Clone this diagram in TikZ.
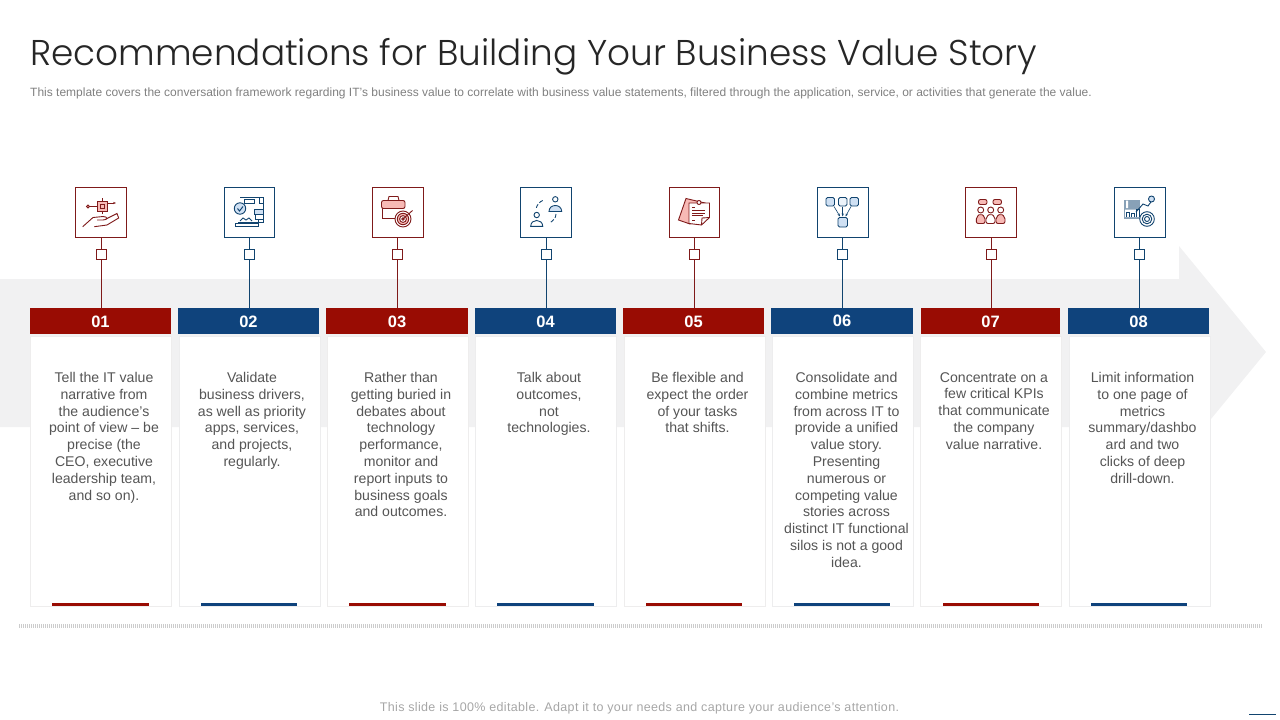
\documentclass[tikz,border=0pt]{standalone}
\usepackage{fontspec}
\setmainfont{Liberation Sans}
\newfontfamily\titlefont{Poppins Light}
\usetikzlibrary{arrows.meta}
\definecolor{redbar}{HTML}{990C03}
\definecolor{bluebar}{HTML}{0F437C}
\definecolor{redline}{HTML}{7F1A1A}
\definecolor{blueline}{HTML}{11446F}
\definecolor{redfill}{HTML}{F7B9B5}
\definecolor{bluefill}{HTML}{CFE0F3}
\definecolor{bandgray}{HTML}{F1F1F2}
\definecolor{bodygray}{HTML}{555555}
\tikzset{
    iconbox/.style={draw,fill=white,line width=1pt,minimum width=51pt,minimum height=50pt,inner sep=0pt,outer sep=0pt},
    stembox/.style={draw,fill=white,line width=1.1pt,minimum size=10pt,inner sep=0pt,outer sep=0pt},
    headbox/.style={inner sep=0pt,outer sep=0pt,minimum height=26pt,text height=12.5pt,text depth=0pt,text=white,font=\fontsize{16.5}{18}\selectfont\bfseries},
    cardbox/.style={draw,fill=white,line width=0.8pt,minimum height=270pt,minimum width=141pt,inner sep=0pt,outer sep=0pt,anchor=north west},
    cardtext/.style={anchor=north,inner sep=0pt,align=center,text=bodygray,font=\fontsize{14.1}{16.8}\selectfont},
    footbar/.style={line width=3pt},
    redicon/.style={draw=redline,line width=0.9pt},
    blueicon/.style={draw=blueline,line width=0.9pt}
}
\begin{document}
\begin{tikzpicture}[x=1pt,y=-1pt]
    \useasboundingbox (0,0) rectangle (1280,720);

    % title and note
    \node[anchor=base west,inner sep=0pt,text=black!85,font=\fontsize{35.85}{40}\titlefont] (title) at (30,65) {Recommendations for Building Your Business Value Story};
    \node[anchor=base west,inner sep=0pt,text=black!50,font=\fontsize{12}{14}\selectfont] (note) at (30,96) {This template covers the conversation framework regarding IT's business value to correlate with business value statements, filtered through the application, service, or activities that generate the value.};

    % big arrow
    \fill[bandgray] (0,279) -- (1179,279) -- (1179,246) -- (1266,352) -- (1179,458) -- (1179,427) -- (0,427) -- cycle;

    % headers
    \node[headbox,fill=redbar,minimum width=141pt] (head1) at (100.5,321.2) {01};
    \node[headbox,fill=bluebar,minimum width=141pt] (head2) at (248.5,321.2) {02};
    \node[headbox,fill=redbar,minimum width=142pt] (head3) at (397,321.2) {03};
    \node[headbox,fill=bluebar,minimum width=141pt] (head4) at (545.5,321.2) {04};
    \node[headbox,fill=redbar,minimum width=141pt] (head5) at (693.5,321.2) {05};
    \node[headbox,fill=bluebar,minimum width=142pt,text height=11pt] (head6) at (842,321.2) {06};
    \node[headbox,fill=redbar,minimum width=139pt] (head7) at (990.5,321.2) {07};
    \node[headbox,fill=bluebar,minimum width=141pt] (head8) at (1138.5,321.2) {08};

    % icon frames
    \node[iconbox,draw=redline] (icon1) at (101,212.5) {};
    \node[iconbox,draw=blueline,minimum width=50pt] (icon2) at (249.5,212.5) {};
    \node[iconbox,draw=redline] (icon3) at (398,212.5) {};
    \node[iconbox,draw=blueline] (icon4) at (546,212.5) {};
    \node[iconbox,draw=redline,minimum width=50pt] (icon5) at (694.5,212.5) {};
    \node[iconbox,draw=blueline] (icon6) at (843,212.5) {};
    \node[iconbox,draw=redline] (icon7) at (991,212.5) {};
    \node[iconbox,draw=blueline] (icon8) at (1140,212.5) {};

    % small squares on the stems
    \node[stembox,draw=redline] (stem1) at (101.5,254.5) {};
    \node[stembox,draw=blueline] (stem2) at (249.5,254.5) {};
    \node[stembox,draw=redline] (stem3) at (397.5,254.5) {};
    \node[stembox,draw=blueline] (stem4) at (546.5,254.5) {};
    \node[stembox,draw=redline] (stem5) at (694.5,254.5) {};
    \node[stembox,draw=blueline] (stem6) at (842.5,254.5) {};
    \node[stembox,draw=redline] (stem7) at (991.5,254.5) {};
    \node[stembox,draw=blueline] (stem8) at (1139.5,254.5) {};

    % stems
    \draw[redline,line width=1pt] (icon1.south -| stem1.north) -- (stem1.north) (stem1.south) -- (stem1.south |- head1.north);
    \draw[blueline,line width=1pt] (icon2.south -| stem2.north) -- (stem2.north) (stem2.south) -- (stem2.south |- head2.north);
    \draw[redline,line width=1pt] (icon3.south -| stem3.north) -- (stem3.north) (stem3.south) -- (stem3.south |- head3.north);
    \draw[blueline,line width=1pt] (icon4.south -| stem4.north) -- (stem4.north) (stem4.south) -- (stem4.south |- head4.north);
    \draw[redline,line width=1pt] (icon5.south -| stem5.north) -- (stem5.north) (stem5.south) -- (stem5.south |- head5.north);
    \draw[blueline,line width=1pt] (icon6.south -| stem6.north) -- (stem6.north) (stem6.south) -- (stem6.south |- head6.north);
    \draw[redline,line width=1pt] (icon7.south -| stem7.north) -- (stem7.north) (stem7.south) -- (stem7.south |- head7.north);
    \draw[blueline,line width=1pt] (icon8.south -| stem8.north) -- (stem8.north) (stem8.south) -- (stem8.south |- head8.north);

    % cards
    \node[cardbox,draw=red!5!black!7] (card1) at (30.5,336) {};
    \node[cardbox,draw=blue!5!black!7] (card2) at (179,336) {};
    \node[cardbox,draw=red!5!black!7] (card3) at (327.5,336) {};
    \node[cardbox,draw=blue!5!black!7] (card4) at (475.5,336) {};
    \node[cardbox,draw=red!5!black!7] (card5) at (624.5,336) {};
    \node[cardbox,draw=blue!5!black!7] (card6) at (772,336) {};
    \node[cardbox,draw=red!5!black!7] (card7) at (920.5,336) {};
    \node[cardbox,draw=blue!5!black!7] (card8) at (1069,336) {};

    % card texts
    \node[cardtext] (text1) at (104,372) {Tell the IT value\\narrative from\\the audience's\\point of view -- be\\precise (the\\CEO, executive\\leadership team,\\and so on).};
    \node[cardtext] (text2) at (252,372) {Validate\\business drivers,\\as well as priority\\apps, services,\\and projects,\\regularly.};
    \node[cardtext] (text3) at (401,372) {Rather than\\getting buried in\\debates about\\technology\\performance,\\monitor and\\report inputs to\\business goals\\and outcomes.};
    \node[cardtext] (text4) at (549,372) {Talk about\\outcomes,\\not\\technologies.};
    \node[cardtext] (text5) at (697.5,372) {Be flexible and\\expect the order\\of your tasks\\that shifts.};
    \node[cardtext] (text6) at (846.5,372) {Consolidate and\\combine metrics\\from across IT to\\provide a unified\\value story.\\Presenting\\numerous or\\competing value\\stories across\\distinct IT functional\\silos is not a good\\idea.};
    \node[cardtext] (text7) at (994,372) {Concentrate on a\\few critical KPIs\\that communicate\\the company\\value narrative.};
    \node[cardtext] (text8) at (1142.5,372) {Limit information\\to one page of\\metrics\\summary/dashbo\\ard and two\\clicks of deep\\drill-down.};

    % bars at the foot of the cards
    \draw[footbar,redbar] (52,604.5) -- (149,604.5);
    \draw[footbar,bluebar] (201,604.5) -- (297,604.5);
    \draw[footbar,redbar] (349,604.5) -- (446,604.5);
    \draw[footbar,bluebar] (497,604.5) -- (594,604.5);
    \draw[footbar,redbar] (646,604.5) -- (742,604.5);
    \draw[footbar,bluebar] (794,604.5) -- (890,604.5);
    \draw[footbar,redbar] (943,604.5) -- (1039,604.5);
    \draw[footbar,bluebar] (1091,604.5) -- (1187,604.5);

    % icon 1, hand and chip
    \draw[redicon] (89.5,206.5) -- (97.5,206.5);
    \draw[redicon,-{Stealth[length=3pt]}] (107,203) -- (116,203);
    \draw[redicon] (102,198) -- (102,201.5) (102,211) -- (102,214);
    \draw[redicon,fill=redfill] (88,206.5) circle (1.5);
    \draw[redicon,fill=redfill] (97.5,201.5) rectangle (107,211);
    \draw[redicon] (100.5,204.5) rectangle (104,208);
    \draw[redicon] (82.7,226.7) -- (93,217.5) -- (103,216.5) .. controls (108,216.5) and (108,220) .. (103,220) -- (97,220);
    \draw[redicon] (106,219) -- (117,213.5) -- (118.7,218) -- (107,225) -- (94.3,226.7);

    % icon 2, document with check and cylinder
    \draw[blueicon,fill=white] (240,197.5) -- (263,197.5) -- (263,222.5) -- (238,222.5) (263,197.5) -- (263,203) -- (259,203) -- (259,197.5);
    \draw[blueicon] (244,199.5) rectangle (254,203);
    \draw[blueicon] (235,223) rectangle (258,226.5);
    \draw[blueicon] (240,221) -- (243,218) -- (246,220) -- (249,218) -- (252,221);
    \draw[blueicon,fill=bluefill] (240,208.5) circle (5.7);
    \draw[blueicon,line width=1pt] (237.5,208.5) -- (239.5,211) -- (243,206.5);
    \draw[blueicon,fill=bluefill] (254,209.5) rectangle (263.5,214);
    \draw[blueicon,fill=white] (255,214) rectangle (263,219);
    \draw[blueicon] (258.5,219) -- (258.5,222);

    % icon 3, briefcase and target
    \draw[redicon] (388,200.5) -- (389,196.5) -- (398,196.5) -- (399,200.5);
    \draw[redicon] (382.5,207) -- (382.5,218) -- (397,218);
    \draw[redicon,fill=redfill,rounded corners=2pt] (381.5,200.5) rectangle (405,208.5);
    \draw[redicon,fill=white] (403,219) circle (8);
    \draw[redicon,fill=redfill] (403,219) circle (5.7);
    \draw[redicon,fill=white] (403,219) circle (3.4);
    \draw[redicon,fill=redfill] (403,219) circle (1.3);
    \draw[redicon] (403,219) -- (412.5,210.5);

    % icon 4, two persons
    \draw[blueicon] (536.7,215) circle (2.7);
    \draw[blueicon] (530.7,226.3) .. controls (530.7,218.5) and (542.7,218.5) .. (542.7,226.3) -- cycle;
    \draw[blueicon] (555.3,199.3) circle (2.7);
    \draw[blueicon,fill=bluefill] (549,211.5) .. controls (549,203.5) and (561.7,203.5) .. (561.7,211.5) -- cycle;
    \draw[blueicon,dash pattern=on 4pt off 2pt] (542.7,200.5) .. controls (539,202) and (537,205) .. (536,209);
    \draw[blueicon,dash pattern=on 4pt off 2pt] (556,214) .. controls (556,218) and (553,221) .. (549.5,223);

    % icon 5, notes
    \draw[redicon,fill=redfill] (686,198.5) -- (678.5,220) -- (690,224) -- (705,203) -- cycle;
    \draw[redicon,fill=white] (689,203) -- (709.5,203) -- (709.5,217.5) -- (701.5,225) -- (689,223.5) -- cycle;
    \draw[redicon] (709.5,217.5) -- (702,218) -- (701.5,225);
    \draw[redline,line width=0.8pt] (692,207.5) -- (695,207.5) (692,210.5) -- (705,210.5) (692,213) -- (705,213) (692,215.5) -- (703,215.5) (692,220) -- (695,220);
    \draw[redicon,fill=white] (699,202.5) circle (2);

    % icon 6, boxes joined by arrows
    \draw[blueicon,fill=bluefill,rounded corners=1.5pt] (826,197.5) rectangle (834.5,206);
    \draw[blueicon,fill=bluefill!40,rounded corners=1.5pt] (838.5,197.5) rectangle (847,206);
    \draw[blueicon,fill=bluefill,rounded corners=1.5pt] (850,197.5) rectangle (858.5,206);
    \draw[blueicon,fill=bluefill,rounded corners=1.5pt] (838,217.5) rectangle (847.5,227);
    \draw[blueicon,line width=0.6pt,-{Stealth[length=3pt]}] (834,206.5) -- (840,216.5);
    \draw[blueicon,line width=0.6pt,-{Stealth[length=3pt]}] (842.7,206.5) -- (842.7,216.5);
    \draw[blueicon,line width=0.6pt,-{Stealth[length=3pt]}] (851,206.5) -- (845.5,216.5);

    % icon 7, three persons talking
    \draw[redicon,fill=redfill,rounded corners=2pt] (978.5,199.5) rectangle (987,204.5);
    \draw[redicon,fill=redfill,rounded corners=2pt] (993,199.5) rectangle (1001.5,204.5);
    \draw[redicon] (980.7,210) circle (3);
    \draw[redicon] (990.7,210) circle (3);
    \draw[redicon] (1000.7,210) circle (3);
    \draw[redicon,fill=redfill,rounded corners=2pt] (976.3,223.5) -- (976.3,217) -- (980.7,213.5) -- (985,217) -- (985,223.5) -- cycle;
    \draw[redicon,fill=white,rounded corners=2pt] (986,223.5) -- (986,217) -- (990.7,213.5) -- (995,217) -- (995,223.5) -- cycle;
    \draw[redicon,fill=redfill,rounded corners=2pt] (996,223.5) -- (996,217) -- (1000.7,213.5) -- (1005,217) -- (1005,223.5) -- cycle;

    % icon 8, chart and target
    \fill[blueline!50] (1124,199.5) rectangle (1140,219);
    \fill[white] (1126,200.5) rectangle (1128,208) (1125,209.5) rectangle (1140,217);
    \draw[blueline,line width=0.8pt] (1126,217) -- (1126,212) -- (1129,212) -- (1129,217) (1131,217) -- (1131,213) -- (1134,213) -- (1134,217) (1136,217) -- (1136,209) -- (1139,209) -- (1139,217);
    \draw[blueicon] (1136,212) -- (1143,204) -- (1148,206) -- (1152,200.5);
    \draw[blueicon,fill=bluefill] (1151.5,199) circle (3);
    \draw[blueicon,fill=white] (1147,219) circle (7.3);
    \draw[blueicon] (1147,219) circle (4.8) (1147,219) circle (2.5);

    % dotted rule, page number mark and footer
    \draw[black!20,line width=4pt,dash pattern=on 1pt off 1pt] (19,626) -- (1262,626);
    \draw[blueline,line width=1pt] (1249,714.5) -- (1276,714.5);
    \node[inner sep=0pt,text=black!35,font=\fontsize{12.5}{14}\selectfont\addfontfeature{LetterSpace=2.8}] (foot) at (639.5,708) {This slide is 100\% editable. Adapt it to your needs and capture your audience's attention.};
\end{tikzpicture}
\end{document}
